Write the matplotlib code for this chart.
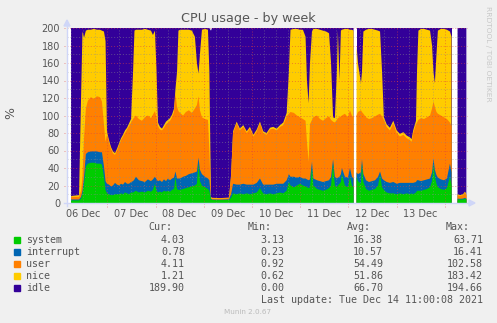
import numpy as np
import matplotlib.pyplot as plt
from matplotlib.patches import Rectangle, Polygon
from matplotlib.lines import Line2D

# hours since 06 Dec 00:00, NaN rows are gaps with no data
hours = [5.9, 9.9, 10.9, 11.6, 12.4, 13.3, 14.3, 15.8, 17.3, 18.8, 20.3, 21.3, 22.3, 23.1,
         23.8, 24.8, 25.8, 26.8, 27.8, 28.8, 29.8, 30.8, 31.8, 32.8, 33.8, 34.8, 35.8, 36.8,
         37.5, 38.2, 39.7, 41.2, 42.7, 44.2, 45.7, 46.7, 47.7, 48.5,
         49.2, 50.2, 51.2, 52.2, 53.2, 54.2, 55.2, 56.2, 57.2, 57.9, 58.7,
         59.4, 60.2, 61.7, 63.1, 64.6, 66.1, 67.6, 68.6, 69.4, 70.1, 71.1, 72.6, 74.1, 74.8,
         75.6, 76.1, 80.1, 84.6, 85.6,
         86.6, 88.4, 90.0, 91.7, 93.4, 95.0, 96.7, 98.4, 100.0, 101.6, 103.3, 105.0, 106.6,
         108.3, 110.0, 111.6, 113.3, 114.4,
         115.2, 116.9, 118.4, 119.9, 121.4, 122.7, 123.4, 124.2, 124.9, 125.9, 126.6, 128.4,
         129.9, 131.4, 132.9, 134.4, 135.4, 136.4, 137.3, 138.3, 138.8, 139.6, 140.3, 140.8,
         142.3, 143.8, 144.8, 145.8, 146.6, 147.1,
         148.1, 148.8, 150.3, 150.8, 151.5, 152.8, 154.3, 155.8, 157.3, 158.8, 159.8, 160.8,
         161.7, 163.1, 164.7, 166.4, 168.1, 169.7, 171.4, 173.1, 174.7, 175.5, 176.3, 177.7,
         178.2, 178.9, 180.2, 181.7, 183.2, 184.7, 185.7, 186.4, 187.1, 187.9, 188.6, 190.1,
         191.6, 193.1, 194.6, 195.4, 196.5,
         198.4, 199.6, 201.1, 202.1, 202.8]

nan = np.nan
system = [3, 3, 5, 10, 22, 42, 45, 46, 46, 45, 45, 44, 30, 15,
          11, 10, 9, 9, 10, 10, 10, 11, 10, 12, 11, 10, 12, 12,
          13, 14, 12, 13, 12, 14, 13, 15, 22, 14,
          12, 13, 12, 14, 13, 14, 13, 15, 16, 30, 16,
          15, 15, 16, 17, 18, 19, 20, 22, 45, 25, 20, 18, 16, 14,
          4, 3.4, 3.3, 3.5, 6,
          11, 10, 11, 10, 11, 10, 11, 12, 17, 11, 10, 11, 10,
          11, 12, 11, 14, 24,
          20, 18, 20, 22, 20, 19, 18, 17, 18, 40, 20, 16,
          15, 14, 15, 17, 20, 45, 20, 18, 20, 22, 24, 33,
          20, 18, 30, 20, 18, nan,
          30, 25, 22, 45, 24, 16, 14, 15, 16, 20, 32, 18,
          15, 12, 11, 11, 10, 11, 10, 11, 10, 11, 10, 12,
          14, 14, 14, 15, 16, 18, 25, 44, 30, 22, 18, 16,
          15, 17, 30, 20, nan,
          4, 4, 4, 5, 4.03]
interrupt = [1, 1, 2, 4, 8, 14, 13, 13, 13, 14, 13, 14, 12, 10,
             11, 11, 10, 11, 13, 11, 10, 11, 11, 12, 11, 12, 12, 13,
             14, 16, 14, 12, 12, 13, 12, 12, 8, 13,
             13, 13, 12, 13, 12, 14, 13, 13, 13, 6, 12,
             13, 13, 14, 14, 15, 15, 15, 14, 7, 13, 13, 12, 12, 12,
             1, 0.6, 0.5, 0.7, 4,
             11, 11, 10, 12, 10, 11, 10, 11, 11, 10, 11, 10, 11,
             11, 10, 11, 12, 9,
             10, 12, 9, 8, 8, 9, 9, 9, 9, 7, 8, 10,
             10, 10, 10, 9, 10, 5, 10, 10, 9, 8, 9, 7,
             10, 11, 10, 10, 10, nan,
             5, 8, 13, 5, 9, 10, 10, 10, 10, 10, 4, 10,
             11, 12, 12, 13, 12, 12, 13, 12, 13, 12, 13, 12,
             12, 12, 11, 11, 11, 10, 10, 7, 8, 10, 11, 11,
             11, 11, 15, 15, nan,
             1, 0.8, 1, 1, 0.78]
user = [3, 3, 7, 16, 45, 52, 59, 62, 60, 63, 63, 58, 48, 45,
        56, 49, 43, 37, 32, 39, 46, 50, 55, 56, 62, 66, 68, 71,
        71, 70, 70, 69, 74, 73, 72, 74, 75, 71,
        63, 58, 59, 59, 65, 64, 68, 70, 75, 89, 82,
        77, 75, 70, 73, 73, 69, 73, 76, 70, 68, 65, 66, 67, 34,
        1, 1, 1.2, 1.3, 20,
        58, 70, 62, 65, 59, 64, 55, 59, 63, 59, 57, 63, 64,
        61, 65, 67, 73, 69,
        74, 73, 71, 68, 68, 66, 43, 21, 63, 48, 70, 74,
        71, 70, 72, 73, 65, 43, 62, 67, 68, 68, 66, 60,
        72, 69, 66, 70, 70, nan,
        65, 71, 71, 54, 69, 72, 72, 72, 73, 71, 66, 71,
        69, 63, 60, 67, 58, 53, 55, 51, 49, 47, 57, 66,
        66, 69, 72, 70, 71, 72, 73, 65, 72, 72, 73, 73,
        72, 68, 47, 53, nan,
        4, 3.2, 4, 6, 4.11]
nice = [1, 2, 106, 166, 114, 89, 81, 77, 80, 76, 77, 81, 106, 115,
        4, 2, 2, 2, 2, 2, 2, 2, 2, 3, 2, 3, 4, 54,
        99, 98, 102, 104, 101, 98, 100, 91, 92, 52,
        4, 3, 2, 3, 3, 3, 3, 3, 4, 5, 40,
        92, 95, 98, 94, 92, 94, 82, 48, 26, 64, 100, 103, 103, 90,
        1, 1, 0.6, 0.7, 2,
        2, 2, 2, 2, 2, 2, 2, 2, 2, 2, 2, 2, 2,
        2, 2, 3, 4, 48,
        94, 96, 99, 100, 102, 96, 70, 67, 70, 101, 101, 99,
        102, 103, 99, 95, 65, 5, 5, 55, 100, 42, 98, 98,
        97, 101, 92, 98, 99, nan,
        80, 56, 31, 46, 94, 100, 103, 102, 99, 96, 94, 51,
        3, 3, 3, 3, 3, 3, 3, 3, 3, 3, 3, 4,
        58, 102, 102, 103, 100, 97, 72, 34, 27, 66, 95, 99,
        101, 102, 104, 102, nan,
        1, 1, 1, 1, 1.21]
idle = [192, 191, 80, 4, 11, 3, 2, 2, 1, 2, 2, 3, 4, 15,
        118, 128, 136, 141, 143, 138, 132, 126, 122, 117, 114, 109, 104, 50,
        3, 2, 2, 2, 1, 2, 3, 8, 3, 50,
        108, 113, 115, 111, 107, 105, 103, 99, 92, 70, 50,
        3, 2, 2, 2, 2, 3, 10, 40, 52, 30, 2, 1, 2, 50,
        190, 194, 194.4, 193.8, 168,
        118, 107, 115, 111, 118, 113, 122, 116, 107, 118, 120, 114, 113,
        115, 111, 108, 97, 50,
        2, 1, 1, 2, 2, 10, 60, 86, 40, 4, 1, 1,
        2, 3, 4, 6, 40, 102, 103, 50, 3, 60, 3, 2,
        1, 1, 2, 2, 3, nan,
        20, 40, 63, 50, 4, 2, 1, 1, 2, 3, 4, 50,
        102, 110, 114, 106, 117, 121, 119, 123, 125, 127, 117, 106,
        50, 3, 1, 1, 2, 3, 20, 50, 63, 30, 3, 1,
        1, 2, 4, 10, nan,
        190, 191, 190, 187, 189.9]

names = ["system", "interrupt", "user", "nice", "idle"]
colors = ["#00CC00", "#0066B3", "#FF8000", "#FFCC00", "#330099"]
cur = ["4.03", "0.78", "4.11", "1.21", "189.90"]
mins = ["3.13", "0.23", "0.92", "0.62", "0.00"]
avgs = ["16.38", "10.57", "54.49", "51.86", "66.70"]
maxs = ["63.71", "16.41", "102.58", "183.42", "194.66"]
day_labels = ["06 Dec", "07 Dec", "08 Dec", "09 Dec", "10 Dec", "11 Dec", "12 Dec", "13 Dec"]

W, H = 497, 323
font_c = "#555555"


def fx(x):
    return x / W


def fy(y):
    return 1 - y / H


fig = plt.figure(figsize=(W / 100, H / 100), dpi=100, facecolor="#F0F0F0")
ax = fig.add_axes([fx(67), fy(203), 400 / W, 175 / H], facecolor="white")

# stacked areas, drawn top-down so the layers have no seams
stack = np.cumsum(np.array([system, interrupt, user, nice, idle], dtype=float), axis=0)
for k in range(len(names) - 1, -1, -1):
    ax.fill_between(hours, 0, stack[k], color=colors[k], lw=0, zorder=1)

ax.set_xlim(3.9, 203.1)
ax.set_ylim(0, 200)
for s in ax.spines.values():
    s.set_visible(False)

# grid (rrdtool draws it over the data)
dot = (0, (1, 2))
for v in range(10, 200, 20):
    ax.axhline(v, color="#8C8C8C", alpha=0.5, lw=0.7, ls=dot, zorder=3)
for v in range(20, 201, 20):
    ax.axhline(v, xmin=-0.008, color="#E04040", alpha=0.55, lw=0.7, ls=dot, zorder=3, clip_on=False)
for h in np.arange(6, 203, 6):
    if h % 24:
        ax.axvline(h, color="#8C8C8C", alpha=0.5, lw=0.7, ls=dot, zorder=3)
for d in range(1, 9):
    ax.axvline(24 * d, ymin=-0.02, color="#E04040", alpha=0.55, lw=0.7, ls=dot, zorder=3, clip_on=False)

ax.set_yticks(range(0, 201, 20))
ax.set_xticks([12 + 24 * i for i in range(len(day_labels))])
ax.set_xticklabels(day_labels)
ax.tick_params(axis="both", length=0, labelsize=7, labelcolor=font_c)
ax.tick_params(axis="y", pad=5)
ax.tick_params(axis="x", pad=4)

# axis lines and arrows
axis_c = "#CFD6F8"
fig.add_artist(Line2D([fx(67), fx(67)], [fy(206), fy(25)], color=axis_c, lw=1))
fig.add_artist(Line2D([fx(64), fx(470)], [fy(203), fy(203)], color=axis_c, lw=1))
fig.add_artist(Polygon([[fx(64), fy(26)], [fx(70), fy(26)], [fx(67), fy(20)]], closed=True,
                       color=axis_c, transform=fig.transFigure))
fig.add_artist(Polygon([[fx(469), fy(200)], [fx(469), fy(206)], [fx(475), fy(203)]], closed=True,
                       color=axis_c, transform=fig.transFigure))

fig.text(fx(248), fy(22), "CPU usage - by week", ha="center", va="baseline", fontsize=9.2, color=font_c)
fig.text(fx(11), fy(113), "%", ha="center", va="center", rotation=90, fontsize=9, color=font_c)
fig.text(fx(488), fy(54), "RRDTOOL / TOBI OETIKER", ha="center", va="center", rotation=270,
         fontsize=5.4, color="#C8C8C8")

# legend table
mono = dict(family="DejaVu Sans Mono", fontsize=7.2, color=font_c)
head_y = 227
for txt, xr in zip(["Cur:", "Min:", "Avg:", "Max:"], [172, 272, 371, 470]):
    fig.text(fx(xr), fy(head_y), txt, ha="right", va="center", **mono)
row_y = [240, 251.8, 263.6, 275.6, 287.6]
for i, name in enumerate(names):
    y = row_y[i]
    fig.add_artist(Rectangle((fx(14), fy(y + 3)), 6 / W, 6 / H, color=colors[i], transform=fig.transFigure))
    fig.text(fx(26), fy(y), name, ha="left", va="center", **mono)
    for vals, xr in zip([cur, mins, avgs, maxs], [185, 284, 383, 483]):
        fig.text(fx(xr), fy(y), vals[i], ha="right", va="center", **mono)
fig.text(fx(483), fy(300), "Last update: Tue Dec 14 11:00:08 2021", ha="right", va="center", **mono)
fig.text(fx(248), fy(312), "Munin 2.0.67", ha="center", va="center", fontsize=5.2, color="#BBBBBB")

fig.savefig("out.png", dpi=100, facecolor=fig.get_facecolor())
